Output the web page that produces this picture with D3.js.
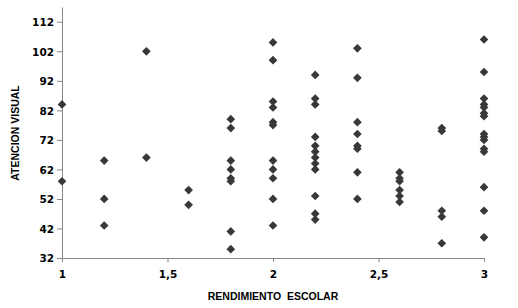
<!DOCTYPE html>
<html>
<head>
<meta charset="utf-8">
<script src="https://cdn.jsdelivr.net/npm/d3@7"></script>
<style>
  body { margin: 0; background: #fff; }
  .tick text { font-family: "DejaVu Sans", sans-serif; font-weight: bold; font-size: 10.5px; fill: #000; }
  .axisTitle { font-family: "Liberation Sans", Arial, sans-serif; font-weight: bold; font-size: 10.5px; fill: #000; white-space: pre; }
</style>
</head>
<body>
<div class="chart"></div>
<script>
// data: rendimiento escolar (x) vs atencion visual (y)
var rendimiento = [1, 1.2, 1.4, 1.6, 1.8, 2, 2.2, 2.4, 2.6, 2.8, 3];
var atencion = [
  [84, 58],
  [65, 52, 43],
  [102, 66],
  [55, 50],
  [79, 76, 65, 62, 59, 58, 41, 35],
  [105, 99, 85, 83, 78, 77, 65, 62, 59, 52, 43],
  [94, 86, 84, 73, 70, 68, 66, 64, 62, 53, 47, 45],
  [103, 93, 78, 74, 70, 69, 61, 52],
  [61, 59, 58, 55, 53, 51],
  [76, 75, 48, 46, 37],
  [106, 95, 86, 84, 83, 81, 80, 74, 73, 72, 69, 68, 56, 48, 39]
];
var xTicks = [1, 1.5, 2, 2.5, 3];
var yTicks = [32, 42, 52, 62, 72, 82, 92, 102, 112];

// flatten to points
var points = [];
rendimiento.forEach(function (r, i) {
  atencion[i].forEach(function (a) {
    points.push({ x: r, y: a });
  });
});

// Step 1: chart size
var svgWidth = 518;
var svgHeight = 308;
var margin = { top: 7, right: 34, bottom: 50, left: 62 };
var width = svgWidth - margin.left - margin.right;
var height = svgHeight - margin.top - margin.bottom;

var svg = d3.select(".chart")
  .append("svg")
  .attr("width", svgWidth)
  .attr("height", svgHeight);

var chartGroup = svg.append("g")
  .attr("transform", `translate(${margin.left}, ${margin.top})`);

// Step 2: scales
var xScale = d3.scaleLinear().domain([1, 3]).range([0, width]);
var yScale = d3.scaleLinear().domain([32, 117]).range([height, 0]);

// Step 3: axes
var bottomAxis = d3.axisBottom(xScale)
  .tickValues(xTicks)
  .tickSize(4)
  .tickSizeOuter(0)
  .tickFormat(d => String(d).replace(".", ","));
var leftAxis = d3.axisLeft(yScale)
  .tickValues(yTicks)
  .tickSize(5)
  .tickSizeOuter(0);

var xAxisG = chartGroup.append("g")
  .attr("transform", `translate(0, ${height})`)
  .call(bottomAxis);
xAxisG.selectAll("text").attr("dy", "1.25em");

var yAxisG = chartGroup.append("g")
  .call(leftAxis);
yAxisG.selectAll("text").attr("x", -8).attr("dy", "0.36em");

chartGroup.selectAll(".domain, .tick line")
  .attr("stroke", "#868686")
  .attr("stroke-width", 1);

// Step 4: diamond markers
var diamond = d3.symbol().type(d3.symbolDiamond2).size(48);
chartGroup.selectAll(".pt")
  .data(points)
  .enter()
  .append("path")
  .attr("class", "pt")
  .attr("d", diamond)
  .attr("transform", d => `translate(${xScale(d.x)}, ${yScale(d.y)})`)
  .attr("fill", "#383838");

// Step 5: axis titles
svg.append("text")
  .attr("class", "axisTitle")
  .attr("transform", `translate(19, ${133}) rotate(-90)`)
  .attr("text-anchor", "middle")
  .text("ATENCION VISUAL");

svg.append("text")
  .attr("class", "axisTitle")
  .attr("x", margin.left + xScale(2))
  .attr("y", 300)
  .attr("text-anchor", "middle")
  .text("RENDIMIENTO  ESCOLAR");
</script>
</body>
</html>
